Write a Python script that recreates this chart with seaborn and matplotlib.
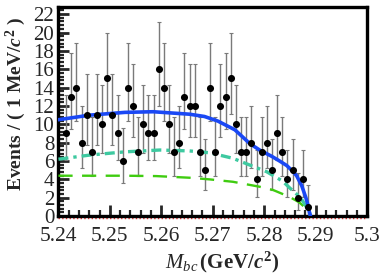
import numpy as np
import pandas as pd
import matplotlib
matplotlib.use("Agg")
import matplotlib.pyplot as plt
import seaborn as sns
from matplotlib.ticker import MultipleLocator

# ---------------------------------------------------------------------------
# data: events per 1 MeV bin, first bin centred at 5.2415 GeV
# ---------------------------------------------------------------------------
counts = [9, 13, 14, 8, 11, 7, 11, 10, 15, 11, 9, 6,
          14, 12, 7, 10, 9, 9, 16, 14, 10, 7, 8, 13,
          12, 12, 7, 5, 14, 7, 12, 13, 15, 10, 7, 7,
          8, 4, 7, 8, 5, 9, 7, 4, 5, 2, 4, 1]
first_bin = 5.2415
bin_width = 0.001

# fit curves (mass, events)
total_m = [5.2400, 5.2461, 5.2529, 5.2584, 5.2655, 5.2684, 5.2710, 5.2743,
           5.2772, 5.2791, 5.2815, 5.2830, 5.2844, 5.2855, 5.2863, 5.2873,
           5.2881, 5.2885, 5.2888, 5.2890]
total_y = [10.5, 11.0, 11.3, 11.37, 11.1, 10.85, 10.35, 9.4,
           7.9, 7.2, 6.5, 6.0, 5.5, 4.9, 4.4, 3.3,
           2.0, 1.2, 0.4, 0.0]

bkg1_m = [5.2400, 5.2461, 5.2529, 5.2597, 5.2655, 5.2694, 5.2739, 5.2772,
          5.2805, 5.2836, 5.2849, 5.2863, 5.2873, 5.2882, 5.2888, 5.2890]
bkg1_y = [6.2, 6.65, 7.0, 7.2, 7.1, 6.9, 6.3, 5.56,
          4.83, 3.8, 3.1, 2.4, 1.8, 1.0, 0.4, 0.0]

bkg2_m = [5.2400, 5.2529, 5.2590, 5.2655, 5.2694, 5.2739, 5.2791, 5.2817,
          5.2849, 5.2868, 5.2882, 5.2888, 5.2890]
bkg2_y = [4.4, 4.4, 4.36, 4.18, 4.0, 3.74, 3.2, 2.85,
          2.1, 1.5, 0.8, 0.35, 0.0]

x_ticks = [5.24, 5.25, 5.26, 5.27, 5.28, 5.29, 5.3]
x_tick_labels = ["5.24", "5.25", "5.26", "5.27", "5.28", "5.29", "5.3"]

# ---------------------------------------------------------------------------
# poisson (Gehrels) error bars from the counts
# ---------------------------------------------------------------------------
df = pd.DataFrame({"mbc": first_bin + bin_width * np.arange(len(counts)),
                   "n": counts})
n = df["n"].to_numpy(dtype=float)
upper = n + np.sqrt(n + 1) + 1
lower = np.where(n > 0, n * (1 - 1 / (9 * np.maximum(n, 1)) - 1 / (3 * np.sqrt(np.maximum(n, 1)))) ** 3, 0)
df["err_lo"] = n - lower
df["err_hi"] = upper - n

# ---------------------------------------------------------------------------
# style
# ---------------------------------------------------------------------------
sns.set_style("ticks")
plt.rcParams["font.family"] = ["Liberation Serif", "DejaVu Serif"]
plt.rcParams["mathtext.fontset"] = "custom"
plt.rcParams["mathtext.rm"] = "Liberation Serif:bold"
plt.rcParams["mathtext.it"] = "Liberation Serif:bold:italic"
plt.rcParams["mathtext.sf"] = "Liberation Serif:italic"

fig = plt.figure(figsize=(3.82, 2.76), dpi=100)
ax = fig.add_axes([0.153, 0.217, 0.808, 0.757])

ax.errorbar(df["mbc"], df["n"], yerr=[df["err_lo"], df["err_hi"]], fmt="none",
            ecolor="#7a7a7a", elinewidth=1.0, capsize=1.2, capthick=0.8, zorder=2)
sns.scatterplot(data=df, x="mbc", y="n", ax=ax, color="black", s=26,
                edgecolor="black", linewidth=0, zorder=5, legend=False)

sns.lineplot(x=bkg2_m, y=bkg2_y, ax=ax, sort=False, estimator=None,
             color="#3fcc10", lw=1.7, linestyle=(0, (6, 4)), zorder=3)
sns.lineplot(x=bkg1_m, y=bkg1_y, ax=ax, sort=False, estimator=None,
             color="#3ec9a0", lw=2.4, linestyle=(0, (3, 1.5, 1, 1.5)), zorder=3)
sns.lineplot(x=total_m, y=total_y, ax=ax, sort=False, estimator=None,
             color="#1a48f5", lw=2.6, zorder=4)
# signal component sits at zero along the bottom
ax.plot([5.24, 5.3], [-0.2, -0.2], color="#e03030", lw=1.0, linestyle=":",
        clip_on=False, zorder=1)

ax.set_xlim(5.24, 5.3)
ax.set_ylim(0, 22.76)
ax.set_xticks(x_ticks)
ax.set_xticklabels(x_tick_labels)
ax.xaxis.set_minor_locator(MultipleLocator(0.002))
ax.yaxis.set_major_locator(MultipleLocator(2))
ax.yaxis.set_minor_locator(MultipleLocator(0.4))

ax.tick_params(axis="both", which="major", direction="in", length=8, width=2,
               top=False, right=False)
ax.tick_params(axis="x", which="major", pad=8, labelsize=15.5)
ax.tick_params(axis="y", which="major", pad=3, labelsize=15)
ax.tick_params(axis="both", which="minor", direction="in", length=4.5, width=1.6,
               top=False, right=False)
for s in ax.spines.values():
    s.set_linewidth(2.4)
    s.set_color("black")

ax.set_xlabel(r"$\mathsf{M}_{\mathsf{bc}}\,\mathrm{(GeV/}\mathit{c}^{\mathrm{2}}\mathrm{)}$",
              fontsize=15)
ax.xaxis.set_label_coords(0.53, -0.16)
ax.set_ylabel(r"$\mathrm{Events\ /\ (\ 1\ MeV/}\mathit{c}^{\mathrm{2}}\mathrm{\ )}$",
              fontsize=14)
ax.yaxis.set_label_coords(-0.099, 0.538)

fig.savefig("out.png", dpi=100)
